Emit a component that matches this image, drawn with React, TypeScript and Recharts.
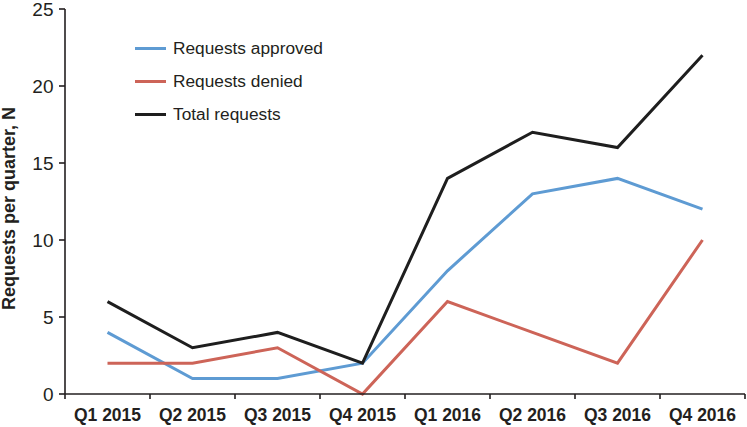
import React from 'react';
import { LineChart, Line, XAxis, YAxis, Legend, Label } from 'recharts';

const quarters = ['Q1 2015', 'Q2 2015', 'Q3 2015', 'Q4 2015', 'Q1 2016', 'Q2 2016', 'Q3 2016', 'Q4 2016'];
const approved = [4, 1, 1, 2, 8, 13, 14, 12];
const denied = [2, 2, 3, 0, 6, 4, 2, 10];
const total = [6, 3, 4, 2, 14, 17, 16, 22];
const yTicks = [0, 5, 10, 15, 20, 25];

const data = quarters.map((q, i) => ({
  pos: i + 0.5,
  quarter: q,
  approved: approved[i],
  denied: denied[i],
  total: total[i],
}));
const xTicks = quarters.map((_, i) => i).concat([quarters.length]);

const W = 747;
const H = 427;
const LEFT = 65;
const RIGHT_MARGIN = 2;
const FONT = '"Liberation Sans", Arial, sans-serif';
const TEXT = '#231f20';
const HALF = (W - RIGHT_MARGIN - LEFT) / quarters.length / 2;

const XTick = (props: any) => {
  const { x, y, payload } = props;
  const v = payload.value;
  if (v >= quarters.length) return null;
  return (
    <text x={x + HALF} y={y} dy={20} textAnchor="middle" fontFamily={FONT} fontSize={17.5} fontWeight="bold" fill={TEXT}>
      {quarters[v]}
    </text>
  );
};

const YLabel = (props: any) => {
  const vb = props.viewBox || {};
  const cy = (vb.y || 0) + (vb.height || 0) / 2 + 7;
  const cx = 9;
  return (
    <text
      x={cx}
      y={cy}
      transform={`rotate(-90, ${cx}, ${cy})`}
      textAnchor="middle"
      dy={6.3}
      fontFamily={FONT}
      fontSize={18}
      fontWeight="bold"
      fill={TEXT}
    >
      Requests per quarter, N
    </text>
  );
};

const LegendContent = (props: any) => {
  const payload = props.payload || [];
  return (
    <div style={{ fontFamily: FONT, fontSize: 17.3, color: TEXT }}>
      {payload.map((p: any) => (
        <div key={p.value} style={{ display: 'flex', alignItems: 'center', height: 33 }}>
          <div style={{ width: 31, height: 3, background: p.color, marginRight: 7 }} />
          <span>{p.value}</span>
        </div>
      ))}
    </div>
  );
};

export default function App() {
  return (
    <div style={{ position: 'absolute', left: 0, top: 0, width: W, height: H, background: '#fff' }}>
      <LineChart width={W} height={H} data={data} margin={{ top: 9, right: RIGHT_MARGIN, bottom: 0, left: 0 }}>
        <XAxis
          dataKey="pos"
          type="number"
          domain={[0, quarters.length]}
          ticks={xTicks}
          interval={0}
          height={33}
          tickSize={5}
          tickMargin={2}
          tick={<XTick />}
          axisLine={{ stroke: TEXT, strokeWidth: 1.6 }}
          tickLine={{ stroke: TEXT, strokeWidth: 1.6 }}
        />
        <YAxis
          type="number"
          domain={[0, 25]}
          ticks={yTicks}
          interval={0}
          width={LEFT}
          tickSize={6}
          tickMargin={5.5}
          tick={{ fontFamily: FONT, fontSize: 19, fill: TEXT }}
          axisLine={{ stroke: TEXT, strokeWidth: 1.6 }}
          tickLine={{ stroke: TEXT, strokeWidth: 1.6 }}
        >
          <Label content={<YLabel />} />
        </YAxis>
        <Legend
          layout="vertical"
          align="center"
          verticalAlign="middle"
          content={<LegendContent />}
          wrapperStyle={{ left: 135, top: 32, width: 220, height: 100 }}
        />
        <Line type="linear" dataKey="approved" name="Requests approved" stroke="#5e9bd3" strokeWidth={3} dot={false} isAnimationActive={false} />
        <Line type="linear" dataKey="denied" name="Requests denied" stroke="#cd6458" strokeWidth={3} dot={false} isAnimationActive={false} />
        <Line type="linear" dataKey="total" name="Total requests" stroke="#1e1e1e" strokeWidth={3} dot={false} isAnimationActive={false} />
      </LineChart>
    </div>
  );
}
